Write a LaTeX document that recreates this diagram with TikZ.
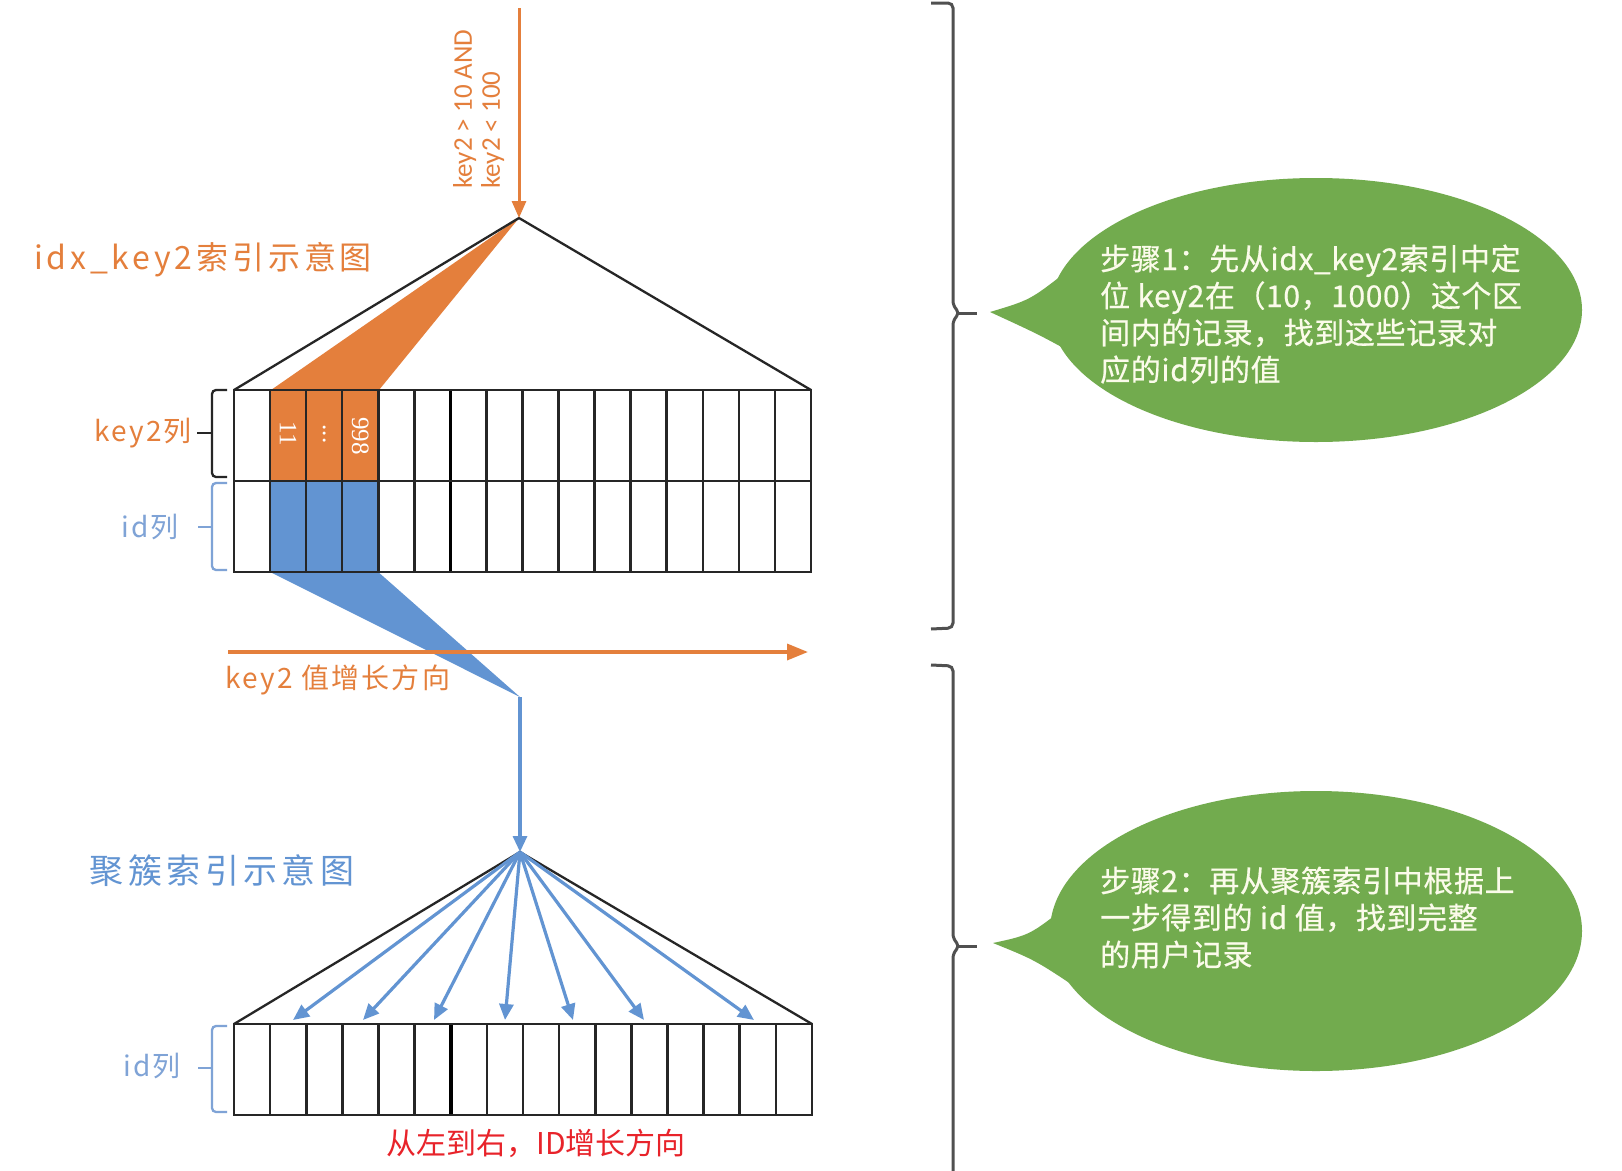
\documentclass[tikz,border=0pt]{standalone}
\usepackage{fontspec}
\setmainfont{Noto Sans CJK SC}
\newfontfamily\cjkTitle[LetterSpace=12]{Noto Sans CJK SC}
\newfontfamily\cjkTitleB[LetterSpace=13]{Noto Sans CJK SC}
\newfontfamily\cjkLab[LetterSpace=8]{Noto Sans CJK SC}
\newfontfamily\cjkCall[LetterSpace=2,FakeBold=0.6]{Noto Sans CJK SC}
\newfontfamily\cjkPlain{Noto Sans CJK SC}
\newfontfamily\latinSans{Carlito}
\newfontfamily\digitSerif{Liberation Serif}
\usetikzlibrary{arrows.meta}
\definecolor{org}{HTML}{E47F3C}
\definecolor{blu}{HTML}{6294D2}
\definecolor{lblu}{HTML}{7FA3D6}
\definecolor{grn}{HTML}{72AB4E}
\definecolor{redt}{HTML}{E8232A}
\definecolor{cream}{HTML}{FBFBEA}
\definecolor{brc}{HTML}{505050}
\tikzset{
  gridline/.style={draw=black!85,line width=2.6pt},
  triline/.style={draw=black!85,line width=2.3pt},
  lbrace/.style={line width=2.3pt,rounded corners=4pt},
  rbrace/.style={draw=brc,line width=3pt,rounded corners=5pt},
  oarrow/.style={draw=org,line width=3pt,-{Triangle[length=17pt,width=14pt]}},
  barrow/.style={draw=blu,line width=3.2pt,-{Triangle[length=16pt,width=14pt]}},
  calltext/.style={anchor=base west,inner sep=0pt,text=cream,font=\cjkCall\fontsize{30}{36}\selectfont},
  digit/.style={rotate=-90,inner sep=0pt,text=white,font=\digitSerif\fontsize{25}{28}\selectfont},
}
\begin{document}
\begin{tikzpicture}[x=1pt,y=-1pt]
\useasboundingbox (0,0) rectangle (1622,1170);
\fill[white] (0,0) rectangle (1622,1170);

% ---------- coordinates ----------
\coordinate (qstart) at (519,8);
\coordinate (apex1) at (519,218);
\coordinate (wtip) at (520,697);
\coordinate (apex2) at (520,852);
\coordinate (hstart) at (228,652);
\coordinate (hend) at (808,652);

% ---------- upper index: fills ----------
\fill[org] (apex1) -- (271,390) -- (379,390) -- cycle;
\fill[org] (270.06,390) rectangle (378.19,481);
\fill[blu] (270.06,481) rectangle (378.19,572);
\fill[blu] (270.06,572) -- (378.19,572) -- (wtip) -- cycle;

% upper triangle
\draw[triline] (234,390) -- (apex1) -- (811,390);

% upper grid
\foreach \i in {0,...,16}{
  \pgfmathsetmacro{\xx}{234+\i*36.0625}
  \draw[gridline] (\xx,390) -- (\xx,572);
}
\draw[black,line width=3.4pt] (450.4,390) -- (450.4,572);
\foreach \yy in {390,481,572}{\draw[gridline] (233,\yy) -- (812,\yy);}

% digits in cells
\node[digit] (d11) at (288.1,434) {11};
\node[digit] (ddots) at (324.2,434) {...};
\node[digit] (d998) at (360.2,436) {998};

% query arrow + label
\draw[oarrow] (qstart) -- (apex1);
\node[rotate=90,anchor=north west,inner sep=0pt,align=left,text=org,
      font=\latinSans\fontsize{27}{28}\selectfont] (qlabel) at (453,189)
      {key2 > 10 AND\\key2 < 100};

% titles and labels
\node[text=org,font=\cjkTitle\fontsize{32}{36}\selectfont,inner sep=0pt] (t1) at (203,260) {idx\_key2索引示意图};
\node[text=org,font=\cjkLab\fontsize{28}{32}\selectfont,inner sep=0pt] (lk2) at (143,433) {key2列};
\node[text=lblu,font=\cjkLab\fontsize{28}{32}\selectfont,inner sep=0pt] (lid1) at (150,527) {id列};

% left braces
\draw[lbrace,black!85] (227,390) -- (212,390) -- (212,477) -- (227,477);
\draw[black!85,line width=2.3pt] (212,433) -- (197,433);
\draw[lbrace,lblu] (227,483) -- (212,483) -- (212,570) -- (227,570);
\draw[lblu,line width=2.3pt] (212,527) -- (198,527);

% key2 direction arrow
\draw[draw=org,line width=3.4pt,-{Triangle[length=21pt,width=16pt]}] (hstart) -- (hend);
\node[text=org,font=\cjkLab\fontsize{28}{32}\selectfont,inner sep=0pt,anchor=west] (kdir) at (225,680) {key2 值增长方向};

% blue arrow to clustered index
\draw[barrow] (wtip) -- (apex2);

% ---------- clustered index ----------
\node[text=blu,font=\cjkTitleB\fontsize{34}{38}\selectfont,inner sep=0pt] (t2) at (222,871) {聚簇索引示意图};
\draw[triline] (234,1024) -- (apex2) -- (812,1024);
\foreach \i in {0,...,16}{
  \pgfmathsetmacro{\xx}{234+\i*36.125}
  \draw[gridline] (\xx,1024) -- (\xx,1115);
}
\draw[black,line width=3.4pt] (450.8,1024) -- (450.8,1115);
\foreach \yy in {1024,1115}{\draw[gridline] (233,\yy) -- (813,\yy);}

\foreach \tx [count=\k] in {293,363,434,505,573,644,754}{
  \coordinate (tgt\k) at (\tx,1020);
  \draw[barrow] (apex2) -- (tgt\k);
}

\node[text=lblu,font=\cjkLab\fontsize{28}{32}\selectfont,inner sep=0pt] (lid2) at (152,1066) {id列};
\draw[lbrace,lblu] (227,1026) -- (212,1026) -- (212,1112) -- (227,1112);
\draw[lblu,line width=2.3pt] (212,1068) -- (198,1068);

\node[text=redt,font=\cjkPlain\fontsize{30}{34}\selectfont,inner sep=0pt] (red) at (536,1143) {从左到右，ID增长方向};

% ---------- right braces ----------
\draw[rbrace] (931,3) -- (953,3) -- (953,306) -- (960,313) -- (953,320) -- (953,628) -- (931,629);
\draw[brc,line width=3pt] (958,313) -- (977,313);
\draw[rbrace] (931,665) -- (953,666) -- (953,939) -- (960,946) -- (953,953) -- (953,1180);
\draw[brc,line width=3pt] (958,946) -- (977,946);

% ---------- callouts ----------
\fill[grn] (1316,310) ellipse [x radius=266,y radius=132];
\fill[grn] (990,312) .. controls (1030,300) .. (1066,272) -- (1085,360) .. controls (1040,335) .. (990,312) -- cycle;
\node[calltext] (s1a) at (1100,270) {步骤1：先从idx\_key2索引中定};
\node[calltext] (s1b) at (1100,307) {位 key2在（10，1000）这个区};
\node[calltext] (s1c) at (1100,344) {间内的记录，找到这些记录对};
\node[calltext] (s1d) at (1100,381) {应的id列的值};

\fill[grn] (1316,931) ellipse [x radius=266,y radius=140];
\fill[grn] (993,943) .. controls (1030,935) .. (1068,905) -- (1080,990) .. controls (1035,960) .. (993,943) -- cycle;
\node[calltext] (s2a) at (1100,892) {步骤2：再从聚簇索引中根据上};
\node[calltext] (s2b) at (1100,929) {一步得到的 id 值，找到完整};
\node[calltext] (s2c) at (1100,966) {的用户记录};
\end{tikzpicture}
\end{document}
